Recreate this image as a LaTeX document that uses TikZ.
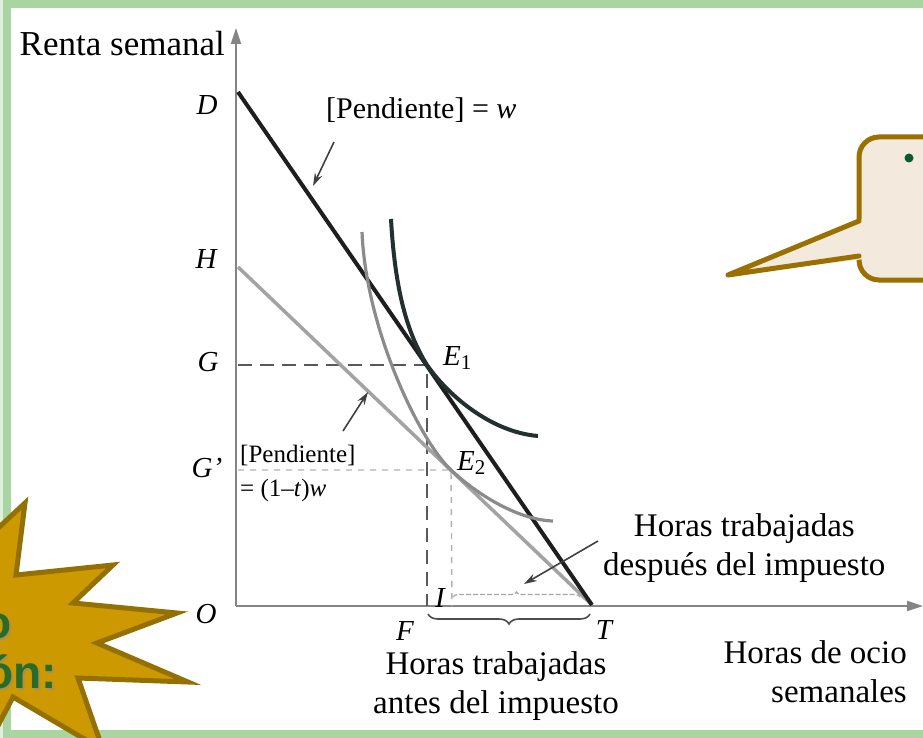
\documentclass[tikz,border=0pt]{standalone}
\usepackage{fontspec}
\setmainfont{Liberation Serif}
\newfontfamily\starfont{Liberation Sans}
\usetikzlibrary{arrows.meta,decorations.pathreplacing}
\definecolor{framegreen}{HTML}{A8D5A0}
\definecolor{axisgray}{HTML}{858585}
\definecolor{budgetgray}{HTML}{A3A3A3}
\definecolor{darkline}{HTML}{1E1E1E}
\definecolor{curvedark}{HTML}{243030}
\definecolor{gold}{HTML}{CC9900}
\definecolor{goldedge}{HTML}{937000}
\definecolor{callfill}{HTML}{F3E9DD}
\definecolor{calledge}{HTML}{9A7000}
\definecolor{textgreen}{HTML}{2A6B2A}
\definecolor{bulletgreen}{HTML}{0B5A2E}
\tikzset{
  lab/.style={font=\fontsize{29}{34}\selectfont\itshape, inner sep=0pt},
  txt/.style={font=\fontsize{33}{39}\selectfont, inner sep=0pt, align=center},
  smalltxt/.style={font=\fontsize{25}{30}\selectfont, inner sep=0pt},
  axisline/.style={draw=axisgray, line width=2.2pt, -{Triangle[length=16pt,width=10pt]}},
  budgetw/.style={draw=darkline, line width=4pt},
  budgett/.style={draw=budgetgray, line width=3.5pt},
  icurveone/.style={draw=curvedark, line width=4pt},
  icurvetwo/.style={draw=budgetgray!85!black, line width=3.2pt},
  guide/.style={draw=black!65, line width=2pt, dash pattern=on 14pt off 8pt},
  guidedot/.style={draw=black!30, line width=1.4pt, dash pattern=on 6pt off 6pt},
  pointer/.style={draw=black!75, line width=1.6pt, -{Stealth[length=13pt,width=8pt]}},
  bracedown/.style={draw=black!70, line width=1.6pt, decorate, decoration={brace, mirror, amplitude=10pt}},
  braceup/.style={draw=black!35, line width=1.2pt, dash pattern=on 5pt off 2pt, decorate, decoration={brace, amplitude=5pt}},
  startext/.style={font=\starfont\bfseries\fontsize{46}{50}\selectfont, text=textgreen, inner sep=0pt},
  starshadow/.style={font=\starfont\bfseries\fontsize{46}{50}\selectfont, text=black!45, opacity=0.5, inner sep=0pt},
}
\begin{document}
\begin{tikzpicture}[x=1pt,y=-1pt]
\useasboundingbox (0,0) rectangle (923,738);
\clip (0,0) rectangle (923,738);
% frame
\fill[framegreen!35] (0,0) rectangle (923,738);
\draw[framegreen, line width=8pt, fill=white] (7,4) rectangle (980,734);

% points
\coordinate (O) at (236,606);
\coordinate (Ytop) at (236,28);
\coordinate (Xend) at (923,606);
\coordinate (D) at (238,92);
\coordinate (H) at (238,267);
\coordinate (T) at (592,605);
\coordinate (E1) at (427,365);
\coordinate (E2) at (451,470);
\coordinate (Gy) at (238,365);
\coordinate (Gpy) at (238,470);
\coordinate (F) at (427,606);
\coordinate (I) at (452,606);

% axes
\draw[axisline] (O) -- (Ytop);
\draw[axisline] (O) -- (Xend);

% guides
\draw[guide] (Gy) -- (E1) -- (F);
\draw[guidedot] (Gpy) -- (E2) -- (I);

% budget lines
\draw[budgett] (H) -- (T);
\draw[budgetw] (D) -- (T);

% indifference curves
\draw[icurvetwo] (362,232) .. controls (366,330) and (420,441) .. (E2)
      .. controls (480,497) and (520,520) .. (553,521);
\draw[icurveone] (391,219) .. controls (395,290) and (407,333) .. (E1)
      .. controls (447,394) and (490,432) .. (538,436);

% braces
\draw[braceup] (453,597) -- (580,597);
\draw[bracedown] (428,614) -- (590,614);

% labels
\node[txt, anchor=east, font=\fontsize{35}{40}\selectfont] (renta) at (225,44) {Renta semanal};
\node[lab] (lD) at (207,105) {D};
\node[lab] (lH) at (206,259) {H};
\node[lab] (lG) at (208,362) {G};
\node[lab] (lGp) at (207,468) {G’};
\node[lab] (lO) at (206,614) {O};
\node[lab] (lF) at (405,631) {F};
\node[lab] (lT) at (604,630) {T};
\node[lab] (lI) at (440,598) {I};
\node[lab, anchor=west] (lE1) at (443,358) {E\raisebox{-0.25ex}{\upshape\fontsize{21}{21}\selectfont 1}};
\node[lab, anchor=west] (lE2) at (457,463) {E\raisebox{-0.25ex}{\upshape\fontsize{21}{21}\selectfont 2}};

\node[txt, anchor=west, font=\fontsize{30}{36}\selectfont] (pw) at (326,110) {[Pendiente] = \textit{w}};
\coordinate (pwtip) at (313,186);
\draw[pointer] (334,142) -- (pwtip);

\node[smalltxt, anchor=west] (pt1) at (240,455) {[Pendiente]};
\node[smalltxt, anchor=west] (pt2) at (240,490) {= (1–\textit{t})\textit{w}};
\coordinate (pttip) at (368,392);
\draw[pointer] (343,431) -- (pttip);

\node[txt, anchor=west] (after) at (603,548) {Horas trabajadas\\después del impuesto};
\coordinate (aftertip) at (524,584);
\draw[pointer] (598,541) -- (aftertip);

\node[txt] (before) at (496,686) {Horas trabajadas\\antes del impuesto};
\node[txt, align=right, anchor=east] (ocio) at (907,672) {Horas de ocio\\semanales};

% callout
\filldraw[fill=callfill, draw=calledge, line width=5pt, rounded corners=20pt] (859,137) rectangle (1000,280);
\fill[callfill] (865,218) -- (728,275) -- (865,259) -- cycle;
\draw[calledge, line width=5pt, line join=round, line cap=round] (859,221) -- (728,275) -- (859,256);
\node[circle, fill=bulletgreen, minimum size=9pt, inner sep=0pt] (bul) at (909,158) {};

% starburst
\filldraw[fill=gold, draw=goldedge, line width=5pt, line join=miter]
  (-20,545) -- (25,503) -- (16,575) -- (113,565) -- (73,603) -- (177,613) -- (97,643)
  -- (188,682) -- (78,678) -- (103,750) -- (13,697) -- (-20,760) -- cycle;
\node[starshadow, anchor=base east] at (14,640) {o};
\node[starshadow, anchor=base east] at (59,690) {ón:};
\node[startext, anchor=base east] (s1) at (12,638) {o};
\node[startext, anchor=base east] (s2) at (57,688) {ón:};
\end{tikzpicture}
\end{document}
